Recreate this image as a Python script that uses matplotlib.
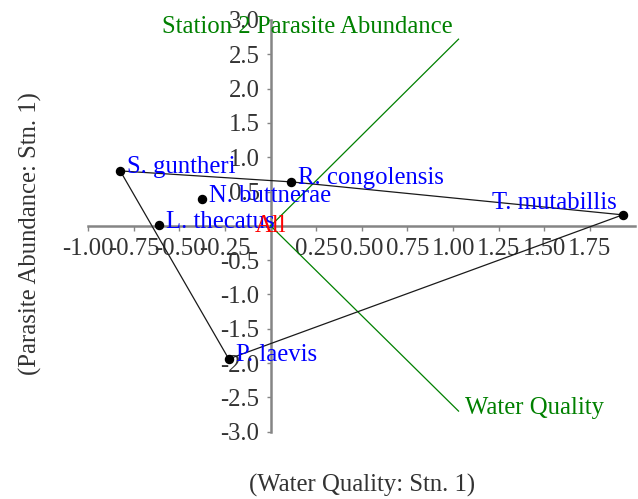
import matplotlib
matplotlib.use("Agg")
import matplotlib.pyplot as plt

plt.rcParams['font.family'] = ['Liberation Serif', 'DejaVu Serif']
plt.rcParams['axes.unicode_minus'] = False

# species scores
species = ["S. guntheri", "R. congolensis", "N. buttnerae", "L. thecatus",
           "T. mutabillis", "P. laevis"]
score_x = [-0.825, 0.114, -0.378, -0.61, 1.93, -0.23]
score_y = [0.80, 0.64, 0.39, 0.01, 0.16, -1.94]
label_side = ["right", "right", "right", "right", "left", "right"]

# outline drawn around the outer species
hull = ["S. guntheri", "R. congolensis", "T. mutabillis", "P. laevis", "S. guntheri"]

# environmental vectors
variables = ["Station 2 Parasite Abundance", "Water Quality"]
var_x = [1.03, 1.03]
var_y = [2.72, -2.70]
var_side = ["left", "right"]

x_ticks = [-1.0, -0.75, -0.5, -0.25, 0.25, 0.5, 0.75, 1.0, 1.25, 1.5, 1.75]
y_ticks = [-3.0, -2.5, -2.0, -1.5, -1.0, -0.5, 0.5, 1.0, 1.5, 2.0, 2.5, 3.0]

FS = 17.8
AXIS_GREY = '#858585'
TEXT_GREY = '#333333'

fig = plt.figure(figsize=(6.38, 4.99), dpi=100)
ax = fig.add_axes([0.1384, 0.1349, 0.996 - 0.1384, 0.96 - 0.1349])
ax.set_xlim(-1.0, 2.0)
ax.set_ylim(-3.0, 3.0)

for side in ['top', 'right']:
    ax.spines[side].set_visible(False)
for side in ['left', 'bottom']:
    ax.spines[side].set_position(('data', 0))
    ax.spines[side].set_color(AXIS_GREY)
    ax.spines[side].set_linewidth(1.8)
    ax.spines[side].set_zorder(1)

ax.set_xticks(x_ticks)
ax.set_xticklabels(["%.2f" % v for v in x_ticks])
ax.set_yticks(y_ticks)
ax.set_yticklabels(["%.1f" % v for v in y_ticks])
ax.tick_params(axis='x', direction='out', length=3.6, width=1.0, color=AXIS_GREY,
               labelsize=FS, labelcolor=TEXT_GREY, pad=5.5)
ax.tick_params(axis='y', direction='out', length=3.0, width=1.0, color=AXIS_GREY,
               labelsize=FS, labelcolor=TEXT_GREY, pad=5)

# vectors from the origin
for name, vx, vy, side in zip(variables, var_x, var_y, var_side):
    ax.plot([0, vx], [0, vy], color='green', lw=0.9, zorder=2)
    if side == 'left':
        ax.annotate(name, (vx, vy), xytext=(-6, 6), textcoords='offset pixels',
                    ha='right', va='baseline', color='green', fontsize=FS)
    else:
        ax.annotate(name, (vx, vy), xytext=(6, -2.5), textcoords='offset pixels',
                    ha='left', va='baseline', color='green', fontsize=FS)

# hull outline
idx = [species.index(s) for s in hull]
ax.plot([score_x[i] for i in idx], [score_y[i] for i in idx], color='#1a1a1a', lw=0.9, zorder=3)

ax.plot(score_x, score_y, 'o', color='black', ms=5.8, zorder=4)
for name, sx, sy, side in zip(species, score_x, score_y, label_side):
    if side == 'left':
        ax.annotate(name, (sx, sy), xytext=(-6, 6), textcoords='offset pixels',
                    ha='right', va='baseline', color='blue', fontsize=FS, zorder=5)
    else:
        ax.annotate(name, (sx, sy), xytext=(7, -2.5), textcoords='offset pixels',
                    ha='left', va='baseline', color='blue', fontsize=FS, zorder=5)

ax.text(0, 0, "All", color='red', fontsize=FS, ha='center', va='center', zorder=5)

fig.text(362 / 638, 1 - 485 / 499, "(Water Quality: Stn. 1)", fontsize=FS,
         color=TEXT_GREY, ha='center', va='center')
fig.text(30 / 638, 1 - 234 / 499, "(Parasite Abundance: Stn. 1)", fontsize=FS,
         color=TEXT_GREY, ha='center', va='center', rotation=90)

fig.savefig("out.png", dpi=100)
